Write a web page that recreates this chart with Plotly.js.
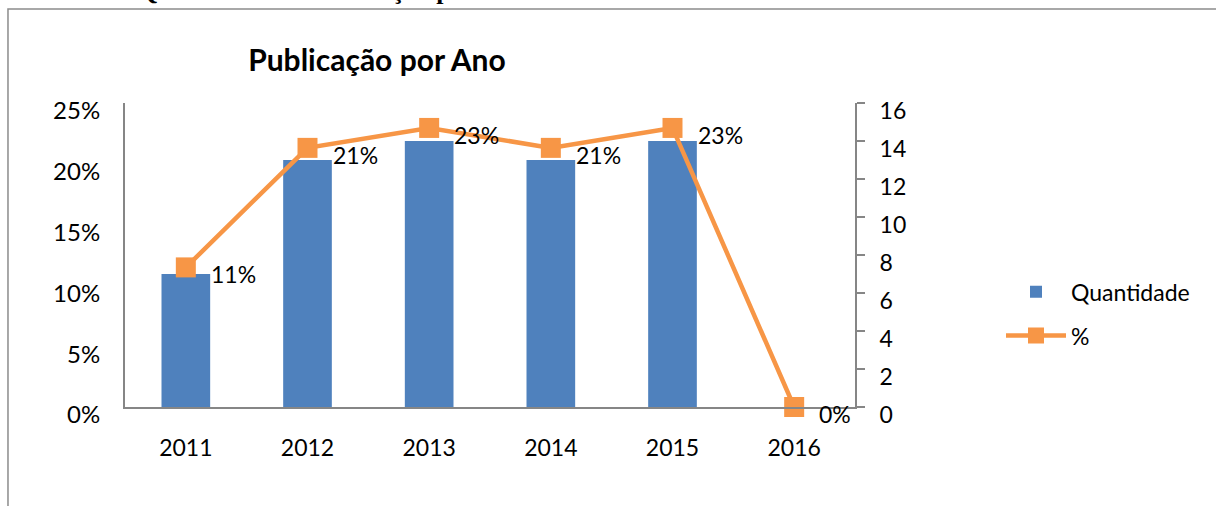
<!DOCTYPE html>
<html>
<head>
<meta charset="utf-8">
<script src="https://cdn.plot.ly/plotly-3.0.1.min.js"></script>
<style>
  html, body { margin: 0; padding: 0; background: #ffffff; }
  #chart { width: 1216px; height: 506px; }
</style>
</head>
<body>
<div id="chart"></div>
<script>
// ---- data ----
const years = ['2011', '2012', '2013', '2014', '2015', '2016'];
const quantidade = [7, 13, 14, 13, 14, 0];
const percentual = [0.1148, 0.2131, 0.2295, 0.2131, 0.2295, 0];
const percentLabels = ['11%', '21%', '23%', '21%', '23%', '0%'];
const chartTitle = 'Publicação por Ano';
const captionText = 'Gráfico 1: Quantidade de Publicação por Ano';

// category positions along the x axis (one slot per year)
const xPos = years.map((_, i) => i);

const FONT = 'Lato, "Open Sans", sans-serif';
const BLUE = '#4F81BD';
const ORANGE = '#F79646';
const AXIS = '#868686';

const traces = [
  {
    type: 'bar',
    name: 'Quantidade',
    x: xPos,
    y: quantidade,
    yaxis: 'y',
    marker: { color: BLUE },
    width: 0.4,
    legendgroup: 'a',
    hoverinfo: 'y'
  },
  {
    type: 'scatter',
    mode: 'lines+markers',
    name: '%',
    x: xPos,
    y: percentual,
    yaxis: 'y2',
    line: { color: ORANGE, width: 4.5 },
    marker: { symbol: 'square', size: 20, color: ORANGE },
    cliponaxis: false,
    legendgroup: 'b',
    hoverinfo: 'y'
  }
];

const annotations = xPos.map((xv, i) => ({
  x: xv,
  y: percentual[i],
  xref: 'x',
  yref: 'y2',
  text: percentLabels[i],
  showarrow: false,
  xanchor: 'left',
  yanchor: 'middle',
  xshift: 23,
  yshift: -7,
  font: { family: FONT, size: 23, color: '#000000' }
}));

annotations.push({
  xref: 'paper', yref: 'paper',
  x: -0.15, y: 1.315,
  xanchor: 'left', yanchor: 'bottom',
  text: '<b>' + captionText + '</b>',
  showarrow: false,
  font: { family: '"Liberation Serif", "Times New Roman", serif', size: 26, color: '#000000' }
});

const layout = {
  width: 1216,
  height: 506,
  margin: { l: 125, r: 361, t: 103, b: 99, pad: 0 },
  paper_bgcolor: '#ffffff',
  plot_bgcolor: '#ffffff',
  font: { family: FONT, size: 23, color: '#000000' },
  title: {
    text: '<b>' + chartTitle + '</b>',
    font: { family: FONT, size: 30, color: '#000000' },
    xref: 'container', x: 0.31, xanchor: 'center',
    yref: 'container', y: 0.881, yanchor: 'middle'
  },
  showlegend: true,
  legend: {
    x: 1.2, xanchor: 'left',
    y: 0.45, yanchor: 'top',
    traceorder: 'grouped',
    tracegroupgap: 11,
    itemwidth: 60,
    font: { family: FONT, size: 23, color: '#000000' },
    bgcolor: 'rgba(0,0,0,0)'
  },
  xaxis: {
    type: 'linear',
    range: [-0.5, 5.5],
    tickmode: 'array',
    tickvals: xPos,
    ticktext: years,
    showline: true, linecolor: AXIS, linewidth: 2,
    ticks: '',
    showgrid: false,
    zeroline: false,
    ticklabelstandoff: 19,
    tickfont: { family: FONT, size: 23, color: '#000000' }
  },
  yaxis: {
    side: 'right',
    range: [0, 16],
    dtick: 2,
    tick0: 0,
    showline: true, linecolor: AXIS, linewidth: 2,
    ticks: 'outside', ticklen: 8, tickwidth: 2, tickcolor: AXIS,
    showgrid: false,
    zeroline: false,
    ticklabelstandoff: 10,
    ticklabelshift: 8,
    tickfont: { family: FONT, size: 23, color: '#000000' }
  },
  yaxis2: {
    overlaying: 'y',
    side: 'left',
    range: [0, 0.25],
    dtick: 0.05,
    tick0: 0,
    tickformat: '.0%',
    showline: true, linecolor: AXIS, linewidth: 2,
    ticks: '',
    showgrid: false,
    zeroline: false,
    ticklabelstandoff: 18,
    ticklabelshift: 8,
    tickfont: { family: FONT, size: 24, color: '#000000' }
  },
  annotations: annotations,
  shapes: [
    {
      type: 'rect', xref: 'paper', yref: 'paper',
      x0: -0.1603, x1: 1.52, y0: -0.4, y1: 1.3095,
      line: { color: '#8c8c8c', width: 1.5 },
      fillcolor: 'rgba(0,0,0,0)',
      layer: 'below'
    }
  ]
};

Plotly.newPlot('chart', traces, layout, { displayModeBar: false, staticPlot: true });
</script>
</body>
</html>
